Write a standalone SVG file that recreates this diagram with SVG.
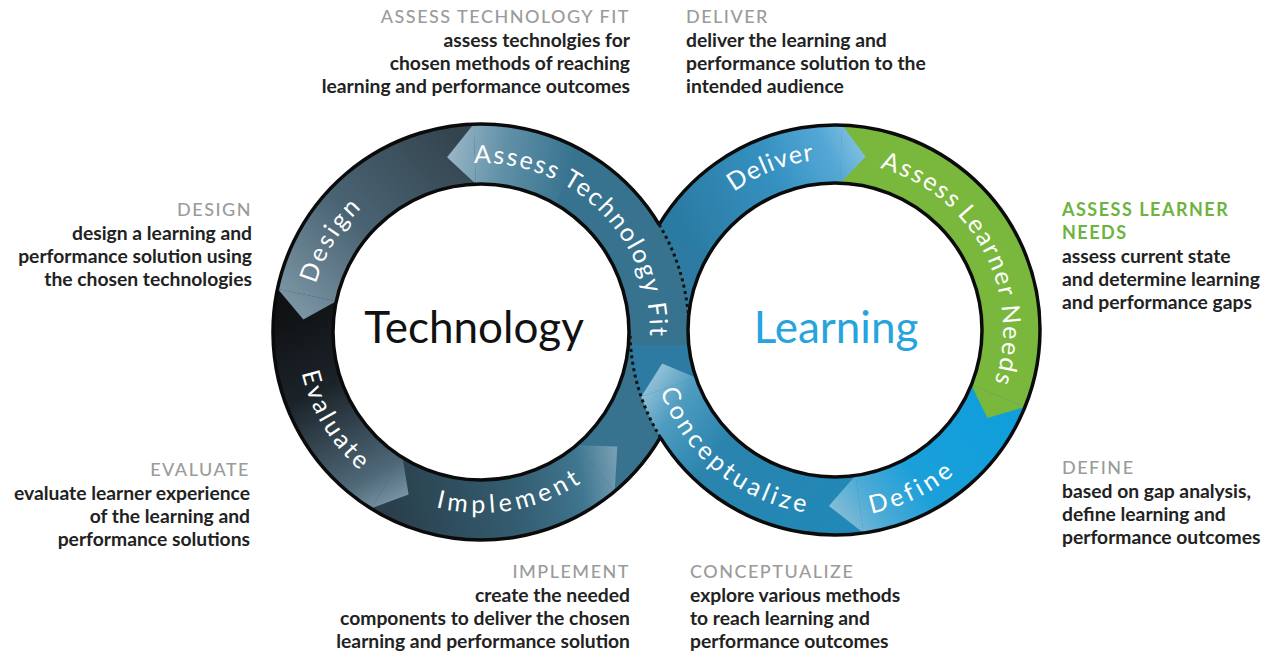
<svg xmlns="http://www.w3.org/2000/svg" width="1273" height="658" viewBox="0 0 1273 658">
<style>
.lbl{font-family:Lato,'Open Sans',sans-serif;font-size:25px;fill:#ffffff;}
.hd{font-family:Lato,'Open Sans',sans-serif;font-size:18px;font-weight:500;fill:#9b9b9b;letter-spacing:1.5px;}
.hdg{font-family:Lato,'Open Sans',sans-serif;font-size:18px;font-weight:700;fill:#6db33f;letter-spacing:1.5px;}
.ds{font-family:Lato,'Open Sans',sans-serif;font-size:19.3px;font-weight:700;fill:#222222;}
.ol{fill:none;stroke:#0b0b0b;stroke-width:3.5;}
.dot{fill:none;stroke:#111111;stroke-width:3;stroke-dasharray:3 3.5;}
.ctr{font-family:Lato,'Open Sans',sans-serif;font-size:44px;}
</style>
<defs>
<linearGradient id="g-impl" gradientUnits="userSpaceOnUse" x1="386.68" y1="482.94" x2="617.35" y2="446.42">
<stop offset="0" stop-color="#2a3f4b"/><stop offset="0.55" stop-color="#345e72"/><stop offset="0.82" stop-color="#3f7690"/><stop offset="1" stop-color="#7aa1b5"/>
</linearGradient>
<linearGradient id="g-eval" gradientUnits="userSpaceOnUse" x1="306.90" y1="294.99" x2="408.61" y2="494.60">
<stop offset="0" stop-color="#0f1113"/><stop offset="0.4" stop-color="#1b2329"/><stop offset="0.85" stop-color="#4e6878"/><stop offset="1" stop-color="#7893a3"/>
</linearGradient>
<linearGradient id="g-design" gradientUnits="userSpaceOnUse" x1="474.79" y1="154.11" x2="303.43" y2="319.58">
<stop offset="0" stop-color="#33444e"/><stop offset="0.55" stop-color="#4a6373"/><stop offset="1" stop-color="#7b95a4"/>
</linearGradient>
<linearGradient id="g-atf" gradientUnits="userSpaceOnUse" x1="570" y1="177.85" x2="447.04" y2="157.28">
<stop offset="0" stop-color="#37738f"/><stop offset="0.55" stop-color="#6090a7"/><stop offset="1" stop-color="#9ab6c5"/>
</linearGradient>
<linearGradient id="g-conc" gradientUnits="userSpaceOnUse" x1="859.50" y1="504.29" x2="662.24" y2="363.58">
<stop offset="0" stop-color="#2188b7"/><stop offset="0.6" stop-color="#2a84ae"/><stop offset="0.85" stop-color="#4f9cc0"/><stop offset="1" stop-color="#92c0d6"/>
</linearGradient>
<linearGradient id="g-define" gradientUnits="userSpaceOnUse" x1="998.19" y1="395.93" x2="828.86" y2="505.89">
<stop offset="0" stop-color="#0f9fdc"/><stop offset="0.55" stop-color="#1a9fd9"/><stop offset="0.8" stop-color="#4aaad6"/><stop offset="1" stop-color="#86bcd6"/>
</linearGradient>
<linearGradient id="g-deliver" gradientUnits="userSpaceOnUse" x1="682.58" y1="242" x2="865.55" y2="156.68">
<stop offset="0" stop-color="#2a7aa2"/><stop offset="0.55" stop-color="#3591c0"/><stop offset="0.85" stop-color="#55a8d6"/><stop offset="1" stop-color="#80bfe0"/>
</linearGradient>
<path id="p-atf1" d="M 442.98 167.33 A 169 169 0 0 1 582.70 197.04"/>
<path id="p-atf2" d="M 541.84 174.32 A 169 169 0 0 1 649.38 317.56"/>
<path id="p-atf3" d="M 635.51 263.53 A 169 169 0 0 1 643.37 378.87"/>
<path id="p-design" d="M 309.06 327.50 A 172 172 0 0 1 398.92 180.85"/>
<path id="p-eval" d="M 297.05 336.17 A 184 184 0 0 0 392.64 493.40"/>
<path id="p-impl" d="M 419.69 502.30 A 181 181 0 0 0 597.84 470.25"/>
<path id="p-deliver" d="M 701.18 223.55 A 171 171 0 0 1 860.27 160.88"/>
<path id="p-aln1" d="M 849.64 162.64 A 168 168 0 0 1 972.62 233.64"/>
<path id="p-aln2" d="M 931.12 192.21 A 168 168 0 0 1 1002.98 332.64"/>
<path id="p-aln3" d="M 993.07 273.09 A 168 168 0 0 1 980.20 414.51"/>
<path id="p-define" d="M 854.39 515.99 A 187 187 0 0 0 969.40 460.02"/>
<path id="p-conc" d="M 653.09 363.71 A 185 185 0 0 0 836.61 514.99"/>
<clipPath id="clip-upper"><rect x="600" y="150" width="120" height="195"/></clipPath>
</defs>
<rect x="0" y="0" width="1273" height="658" fill="#ffffff"/>

<g id="technology-loop">
<circle cx="481" cy="332" r="178" fill="none" stroke="#37738f" stroke-width="60"/>
<g id="step-implement">
<path d="M 370.78 508.38 A 208 208 0 0 0 614.70 491.33 L 576.13 445.37 A 148 148 0 0 1 402.57 457.50 Z" fill="url(#g-impl)"/>
<path d="M 614.70 491.33 L 617.35 446.42 L 576.13 445.37 Z" fill="url(#g-impl)"/>
<text class="lbl" letter-spacing="4.3"><textPath href="#p-impl" startOffset="50%" text-anchor="middle">Implement</textPath></text>
</g>
<g id="step-evaluate">
<path d="M 277.56 288.76 A 208 208 0 0 0 370.78 508.38 L 402.57 457.50 A 148 148 0 0 1 336.24 301.23 Z" fill="url(#g-eval)"/>
<path d="M 370.78 508.38 L 408.61 494.60 L 402.57 457.50 Z" fill="url(#g-eval)"/>
<text class="lbl" letter-spacing="3.2"><textPath href="#p-eval" startOffset="50%" text-anchor="middle">Evaluate</textPath></text>
</g>
<g id="step-design">
<path d="M 473.74 124.12 A 208 208 0 0 0 277.56 288.76 L 336.24 301.23 A 148 148 0 0 1 475.83 184.09 Z" fill="url(#g-design)"/>
<path d="M 277.56 288.76 L 303.43 319.58 L 336.24 301.23 Z" fill="url(#g-design)"/>
<text class="lbl" letter-spacing="2.7"><textPath href="#p-design" startOffset="50%" text-anchor="middle">Design</textPath></text>
</g>
<g id="step-assess-technology-fit">
<path d="M 585 151.87 A 208 208 0 0 0 473.74 124.12 L 475.83 184.09 A 148 148 0 0 1 555 203.83 Z" fill="url(#g-atf)"/>
<path d="M 473.74 124.12 L 447.04 157.28 L 475.83 184.09 Z" fill="url(#g-atf)"/>
<text class="lbl" letter-spacing="1.9"><textPath href="#p-atf1" startOffset="50%" text-anchor="middle">Assess</textPath></text>
<text class="lbl" letter-spacing="1.9"><textPath href="#p-atf2" startOffset="50%" text-anchor="middle">Technology</textPath></text>
<text class="lbl" letter-spacing="1.9"><textPath href="#p-atf3" startOffset="50%" text-anchor="middle">Fit</textPath></text>
</g>
<text class="ctr" x="474" y="343" text-anchor="middle" fill="#111111">Technology</text>
</g>

<g id="learning-loop">
<circle cx="835" cy="330" r="176" fill="none" stroke="#2d7ba2" stroke-width="58"/>
<g id="step-conceptualize">
<path d="M 863.54 533.01 A 205 205 0 0 1 641.17 396.75 L 696.01 377.86 A 147 147 0 0 0 855.46 475.57 Z" fill="url(#g-conc)"/>
<path d="M 641.17 396.75 L 662.24 363.58 L 696.01 377.86 Z" fill="url(#g-conc)"/>
<text class="lbl" letter-spacing="3.6"><textPath href="#p-conc" startOffset="50%" text-anchor="middle">Conceptualize</textPath></text>
</g>
<g id="step-define">
<path d="M 1025.08 406.79 A 205 205 0 0 1 863.54 533.01 L 855.46 475.57 A 147 147 0 0 0 971.30 385.07 Z" fill="url(#g-define)"/>
<path d="M 863.54 533.01 L 828.86 505.89 L 855.46 475.57 Z" fill="url(#g-define)"/>
<text class="lbl" letter-spacing="3.8"><textPath href="#p-define" startOffset="50%" text-anchor="middle">Define</textPath></text>
</g>
<g id="step-assess-learner-needs">
<path d="M 842.15 125.12 A 205 205 0 0 1 1025.08 406.79 L 971.30 385.07 A 147 147 0 0 0 840.13 183.09 Z" fill="#79b83c"/>
<path d="M 1025.08 406.79 L 987.42 418 L 971.30 385.07 Z" fill="#79b83c"/>
<text class="lbl" letter-spacing="1.9"><textPath href="#p-aln1" startOffset="50%" text-anchor="middle">Assess</textPath></text>
<text class="lbl" letter-spacing="1.9"><textPath href="#p-aln2" startOffset="50%" text-anchor="middle">Learner</textPath></text>
<text class="lbl" letter-spacing="1.9"><textPath href="#p-aln3" startOffset="50%" text-anchor="middle">Needs</textPath></text>
</g>
<g id="step-deliver">
<path d="M 657.47 227.5 A 205 205 0 0 1 842.15 125.12 L 840.13 183.09 A 147 147 0 0 0 707.70 256.5 Z" fill="url(#g-deliver)"/>
<path d="M 842.15 125.12 L 865.55 156.68 L 840.13 183.09 Z" fill="url(#g-deliver)"/>
<text class="lbl" letter-spacing="1.3"><textPath href="#p-deliver" startOffset="50%" text-anchor="middle">Deliver</textPath></text>
</g>
<text class="ctr" x="836" y="343" text-anchor="middle" fill="#27a4dd">Learning</text>
</g>

<use href="#technology-loop" clip-path="url(#clip-upper)"/>

<g id="outlines">
<circle class="ol" cx="481" cy="332" r="148"/>
<circle class="ol" cx="835" cy="330" r="147"/>
<path class="ol" d="M 660.35 437.35 A 208 208 0 1 1 659.15 224.63"/>
<path class="ol" d="M 659.15 224.63 A 205 205 0 1 1 660.35 437.35"/>
</g>

<g id="connectors">
<path class="dot" d="M 659.15 224.63 A 208 208 0 0 1 688.5 317.7"/>
<path class="dot" d="M 660.35 437.35 A 205 205 0 0 1 630.06 335"/>
</g>

<g id="desc-assess-technology-fit">
<text class="hd" x="630" y="23" text-anchor="end">ASSESS TECHNOLOGY FIT</text>
<text class="ds" text-anchor="end"><tspan x="630" y="47">assess technolgies for</tspan><tspan x="630" y="70">chosen methods of reaching</tspan><tspan x="630" y="93">learning and performance outcomes</tspan></text>
</g>
<g id="desc-deliver">
<text class="hd" x="686" y="23">DELIVER</text>
<text class="ds"><tspan x="686" y="47">deliver the learning and</tspan><tspan x="686" y="70">performance solution to the</tspan><tspan x="686" y="93">intended audience</tspan></text>
</g>
<g id="desc-design">
<text class="hd" x="252" y="216" text-anchor="end">DESIGN</text>
<text class="ds" text-anchor="end"><tspan x="252" y="240">design a learning and</tspan><tspan x="252" y="263">performance solution using</tspan><tspan x="252" y="286">the chosen technologies</tspan></text>
</g>
<g id="desc-assess-learner-needs">
<text class="hdg"><tspan x="1062" y="216">ASSESS LEARNER</tspan><tspan x="1062" y="239">NEEDS</tspan></text>
<text class="ds"><tspan x="1062" y="263">assess current state</tspan><tspan x="1062" y="286">and determine learning</tspan><tspan x="1062" y="309">and performance gaps</tspan></text>
</g>
<g id="desc-evaluate">
<text class="hd" x="250" y="476" text-anchor="end">EVALUATE</text>
<text class="ds" text-anchor="end"><tspan x="250" y="500">evaluate learner experience</tspan><tspan x="250" y="523">of the learning and</tspan><tspan x="250" y="546">performance solutions</tspan></text>
</g>
<g id="desc-define">
<text class="hd" x="1062" y="474">DEFINE</text>
<text class="ds"><tspan x="1062" y="498">based on gap analysis,</tspan><tspan x="1062" y="521">define learning and</tspan><tspan x="1062" y="544">performance outcomes</tspan></text>
</g>
<g id="desc-implement">
<text class="hd" x="630" y="578" text-anchor="end">IMPLEMENT</text>
<text class="ds" text-anchor="end"><tspan x="630" y="602">create the needed</tspan><tspan x="630" y="625">components to deliver the chosen</tspan><tspan x="630" y="648">learning and performance solution</tspan></text>
</g>
<g id="desc-conceptualize">
<text class="hd" x="690" y="578">CONCEPTUALIZE</text>
<text class="ds"><tspan x="690" y="602">explore various methods</tspan><tspan x="690" y="625">to reach learning and</tspan><tspan x="690" y="648">performance outcomes</tspan></text>
</g>
</svg>
